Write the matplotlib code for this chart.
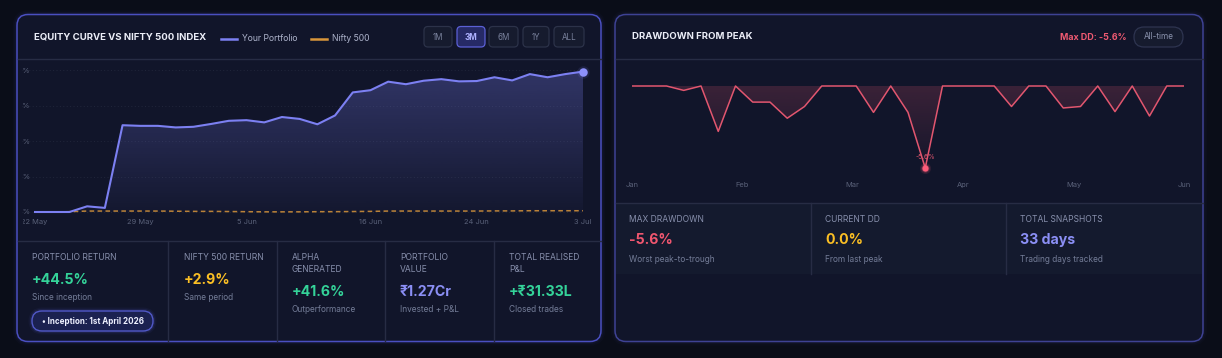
import numpy as np
import matplotlib
matplotlib.use('Agg')
import matplotlib.pyplot as plt
from matplotlib.patches import FancyBboxPatch
from matplotlib.colors import LinearSegmentedColormap, to_rgba
from matplotlib.transforms import Bbox, TransformedBbox

plt.rcParams['font.family'] = ['Inter', 'DejaVu Sans']

# ---- equity curve data (% return per snapshot) ----
eq_tick_idx = [0, 6, 12, 19, 25, 31]
eq_tick_labels = ['22 May', '29 May', '5 Jun', '16 Jun', '24 Jun', '3 Jul']
portfolio = [0, 0, 0, 1.8, 1.3, 27.5, 27.3, 27.3, 26.8, 27.0, 27.9, 28.9, 29.1, 28.4,
             30.1, 29.5, 27.8, 30.6, 37.9, 38.6, 41.3, 40.5, 41.6, 42.1, 41.4, 41.5,
             42.7, 41.7, 43.7, 42.7, 43.7, 44.5]
nifty = [0, 0, 0.1, 0.3, 0.3, 0.3, 0.3, 0.3, 0.25, 0.2, 0.2, 0.15, 0.1, 0.05, 0.05,
         0.05, 0.1, 0.1, 0.15, 0.2, 0.3, 0.3, 0.3, 0.3, 0.3, 0.3, 0.35, 0.35, 0.4,
         0.4, 0.4, 0.4]
eq_yticks = [0, 11.25, 22.5, 33.75, 45]
eq_ytick_labels = ['0.0%', '11.3%', '22.5%', '33.8%', '45.0%']
ranges = ['1M', '3M', '6M', '1Y', 'ALL']
active_range = '3M'

# ---- drawdown data (% from peak) ----
dd_months = ['Jan', 'Feb', 'Mar', 'Apr', 'May', 'Jun']
drawdown = [0, 0, 0, -0.3, 0, -3.1, 0, -1.1, -1.1, -2.2, -1.4, 0, 0, 0, -1.8, 0, -1.8,
            -5.6, 0, 0, 0, 0, -1.4, 0, 0, -1.5, -1.4, 0, -1.75, 0, -2.05, 0, 0]

# ---- stat cards ----
eq_stat_labels = ['PORTFOLIO RETURN', 'NIFTY 500 RETURN', 'ALPHA\nGENERATED',
                  'PORTFOLIO\nVALUE', 'TOTAL REALISED\nP&L']
eq_stat_values = ['+44.5%', '+2.9%', '+41.6%', '₹1.27Cr', '+₹31.33L']
eq_stat_subs = ['Since inception', 'Same period', 'Outperformance', 'Invested + P&L',
                'Closed trades']
eq_stat_colors = ['#34d399', '#fbbf24', '#34d399', '#8b8ff5', '#34d399']

dd_stat_labels = ['MAX DRAWDOWN', 'CURRENT DD', 'TOTAL SNAPSHOTS']
dd_stat_values = ['-5.6%', '0.0%', '33 days']
dd_stat_subs = ['Worst peak-to-trough', 'From last peak', 'Trading days tracked']
dd_stat_colors = ['#f0566f', '#fbbf24', '#8b8ff5']

# ---- colours ----
PAGE = '#0a0d18'
PANEL = '#11152a'
CELL = '#141a2e'
SEP = '#272c44'
PURPLE = '#7c80f2'
ORANGE = '#d9963a'
RED = '#e2566f'
LABEL = '#8890ad'
SUB = '#747d98'
TICK = '#5a6179'

W, H = 1222, 358
fig = plt.figure(figsize=(W / 100, H / 100), dpi=100)
fig.patch.set_facecolor(PAGE)

bg = fig.add_axes([0, 0, 1, 1])
bg.set_xlim(0, W)
bg.set_ylim(H, 0)
bg.axis('off')


def px_axes(x0, y0, x1, y1):
    a = fig.add_axes([x0 / W, 1 - y1 / H, (x1 - x0) / W, (y1 - y0) / H])
    a.set_facecolor('none')
    for s in a.spines.values():
        s.set_visible(False)
    return a


def rbox(x, y, w, h, r, fc, ec='none', lw=1, alpha=1, z=1):
    p = FancyBboxPatch((x, y), w, h, boxstyle=f'round,pad=0,rounding_size={r}',
                       fc=fc, ec=ec, lw=lw, alpha=alpha, zorder=z)
    bg.add_patch(p)
    return p


def gradient_under(ax, xs, ys, base, color, a_top, a_bot, y_lo, y_hi):
    poly = ax.fill_between(xs, ys, base, facecolor='none', edgecolor='none')
    cmap = LinearSegmentedColormap.from_list('g', [to_rgba(color, a_bot), to_rgba(color, a_top)])
    grad = np.linspace(0, 1, 256).reshape(-1, 1)
    im = ax.imshow(grad, aspect='auto', cmap=cmap, origin='lower',
                   extent=[xs[0], xs[-1], y_lo, y_hi], zorder=1)
    im.set_clip_path(poly.get_paths()[0], transform=ax.transData)


# panels with soft glow
for (x0, x1, ec) in [(17, 601, '#4a4fc0'), (615, 1203, '#3e4294')]:
    for k, a in [(6, 0.04), (3.5, 0.07)]:
        rbox(x0, 14.5, x1 - x0, 327, 11, 'none', ec=ec, lw=k, alpha=a)
    rbox(x0, 14.5, x1 - x0, 327, 11, PANEL, ec=ec, lw=1.1, z=2)

# ---------- left panel header ----------
bg.text(34, 36.5, 'EQUITY CURVE VS NIFTY 500 INDEX', color='#eceef8', fontsize=6.9,
        fontweight='bold', va='center', zorder=5)
bg.plot([221, 237], [38.5, 38.5], color=PURPLE, lw=1.8, zorder=5)
bg.text(242, 38.5, 'Your Portfolio', color='#aeb4cc', fontsize=6.2, va='center', zorder=5)
bg.plot([311, 327], [38.5, 38.5], color=ORANGE, lw=1.8, zorder=5)
bg.text(332, 38.5, 'Nifty 500', color='#aeb4cc', fontsize=6.2, va='center', zorder=5)

btn_x = [424, 457, 489, 523, 554]
btn_w = [28, 28, 29, 26, 30]
for name, bx, bw in zip(ranges, btn_x, btn_w):
    on = name == active_range
    rbox(bx, 26.5, bw, 20.5, 4, '#262a66' if on else '#161b2e',
         ec='#5b60d6' if on else '#2c3249', lw=0.9, z=4)
    bg.text(bx + bw / 2, 37, name, color='#aeb1ff' if on else '#7a829d', fontsize=5.8,
            fontweight='bold' if on else 'normal', ha='center', va='center', zorder=5)

bg.plot([17.5, 600.5], [58.5, 58.5], color=SEP, lw=1, zorder=3)

# ---------- equity chart ----------
ax = px_axes(34, 66, 583, 216)
xs = np.arange(len(portfolio))
upp = 45 / 142
ax.set_xlim(0, len(portfolio) - 1)
for yv in eq_yticks:
    ax.axhline(yv, color='#21263b', lw=0.7, ls=(0, (1, 2.5)), zorder=0,
               xmin=-12 / 549, clip_on=False)
gradient_under(ax, xs, portfolio, 0, PURPLE, 0.30, 0.03, 0, max(portfolio))
ax.plot(xs, nifty, color=ORANGE, lw=1.1, ls=(0, (3, 2.2)), alpha=0.85, zorder=3)
ax.plot(xs, portfolio, color=PURPLE, lw=1.5, zorder=4, solid_joinstyle='round')
for r, a in [(9, 0.12), (6.5, 0.25)]:
    ax.plot(xs[-1], portfolio[-1], 'o', ms=r, color=PURPLE, alpha=a, mew=0, clip_on=False, zorder=5)
ax.plot(xs[-1], portfolio[-1], 'o', ms=6, color='#8c90fa', mew=0, clip_on=False, zorder=6)
ax.set_ylim(-4 * upp, 45 + 4 * upp)
ax.set_xticks(eq_tick_idx)
ax.set_xticklabels(eq_tick_labels)
ax.set_yticks(eq_yticks)
ax.set_yticklabels(eq_ytick_labels)
ax.tick_params(length=0, labelsize=5.4, colors=TICK)
ax.tick_params(axis='x', pad=2)
ax.tick_params(axis='y', pad=2.5)
clip = TransformedBbox(Bbox([[23 / W, 0], [1, 1]]), fig.transFigure)
for lab in ax.get_yticklabels() + ax.get_xticklabels():
    lab.set_clip_box(clip)
    lab.set_clip_on(True)

# ---------- left stats ----------
bg.plot([17.5, 600.5], [241, 241], color=SEP, lw=1, zorder=3)
for dx in [168, 277, 385, 494]:
    bg.plot([dx, dx], [241, 341], color=SEP, lw=1, zorder=3)
col_x = [32, 184, 292, 400, 509]
for cx, lab, val, sub, col in zip(col_x, eq_stat_labels, eq_stat_values,
                                  eq_stat_subs, eq_stat_colors):
    lines = lab.split('\n')
    for i, ln in enumerate(lines):
        bg.text(cx, 258 + 12 * i, ln, color=LABEL, fontsize=6.1, va='center', zorder=5)
    off = 12 * (len(lines) - 1)
    bg.text(cx, 279.5 + off, val, color=col, fontsize=10.2, fontweight='bold',
            va='center', zorder=5)
    bg.text(cx, 298 + off, sub, color=SUB, fontsize=6.0, va='center', zorder=5)

# inception pill with glow
for k, a in [(5, 0.06), (3, 0.12)]:
    rbox(32, 311, 121, 20, 10, 'none', ec='#5a62e0', lw=k, alpha=a, z=4)
rbox(32, 311, 121, 20, 10, '#1b2150', ec='#5159c8', lw=1, z=4)
bg.text(92.5, 321.5, '• Inception: 1st April 2026', color='#eef0ff', fontsize=5.8,
        fontweight='bold', ha='center', va='center', zorder=5)

# ---------- right panel header ----------
bg.text(632, 36.5, 'DRAWDOWN FROM PEAK', color='#eceef8', fontsize=6.9,
        fontweight='bold', va='center', zorder=5)
bg.text(1127, 37, 'Max DD: -5.6%', color='#f05a72', fontsize=6.4, fontweight='bold',
        ha='right', va='center', zorder=5)
rbox(1134, 27, 49, 20, 10, '#161b2e', ec='#2e3450', lw=0.9, z=4)
bg.text(1158.5, 36.5, 'All-time', color='#8a92ad', fontsize=5.9, ha='center',
        va='center', zorder=5)
bg.plot([615.5, 1202.5], [58.5, 58.5], color=SEP, lw=1, zorder=3)

# ---------- drawdown chart ----------
ax2 = px_axes(632, 62, 1184, 178)
dxs = np.arange(len(drawdown))
dupp = 5.6 / 82
ax2.set_xlim(0, len(drawdown) - 1)
gradient_under(ax2, dxs, drawdown, 0, RED, 0.20, 0.02, min(drawdown), 0)
ax2.plot(dxs, drawdown, color=RED, lw=1.1, zorder=4, solid_joinstyle='round')
imin = int(np.argmin(drawdown))
for r, a in [(8, 0.12), (6, 0.25)]:
    ax2.plot(imin, drawdown[imin], 'o', ms=r, color='#ff5c7a', alpha=a, mew=0, zorder=5)
ax2.plot(imin, drawdown[imin], 'o', ms=4.5, color='#ff5c7a', mew=0, zorder=6)
ax2.annotate(f'{drawdown[imin]:.1f}%', (imin, drawdown[imin]), xytext=(0, 6),
             textcoords='offset points', ha='center', va='bottom', fontsize=4.8,
             color='#e2566f', zorder=6)
ax2.set_ylim(-5.6 - 10 * dupp, 24 * dupp)
ax2.set_xticks(np.linspace(0, len(drawdown) - 1, len(dd_months)))
ax2.set_xticklabels(dd_months)
ax2.set_yticks([])
ax2.tick_params(length=0, labelsize=5.4, colors=TICK, pad=3)

# ---------- right stats ----------
bg.add_patch(plt.Rectangle((616, 203), 586, 71, fc=CELL, ec='none', zorder=3))
bg.plot([615.5, 1202.5], [203, 203], color=SEP, lw=1, zorder=3)
for dx in [811, 1006]:
    bg.plot([dx, dx], [203, 274], color=SEP, lw=1, zorder=4)
for cx, lab, val, sub, col in zip([629, 825, 1020], dd_stat_labels, dd_stat_values,
                                  dd_stat_subs, dd_stat_colors):
    bg.text(cx, 219.5, lab, color=LABEL, fontsize=6.1, va='center', zorder=5)
    bg.text(cx, 240, val, color=col, fontsize=10.2, fontweight='bold', va='center', zorder=5)
    bg.text(cx, 259, sub, color=SUB, fontsize=6.0, va='center', zorder=5)

fig.savefig('out.png', dpi=100, facecolor=PAGE)
